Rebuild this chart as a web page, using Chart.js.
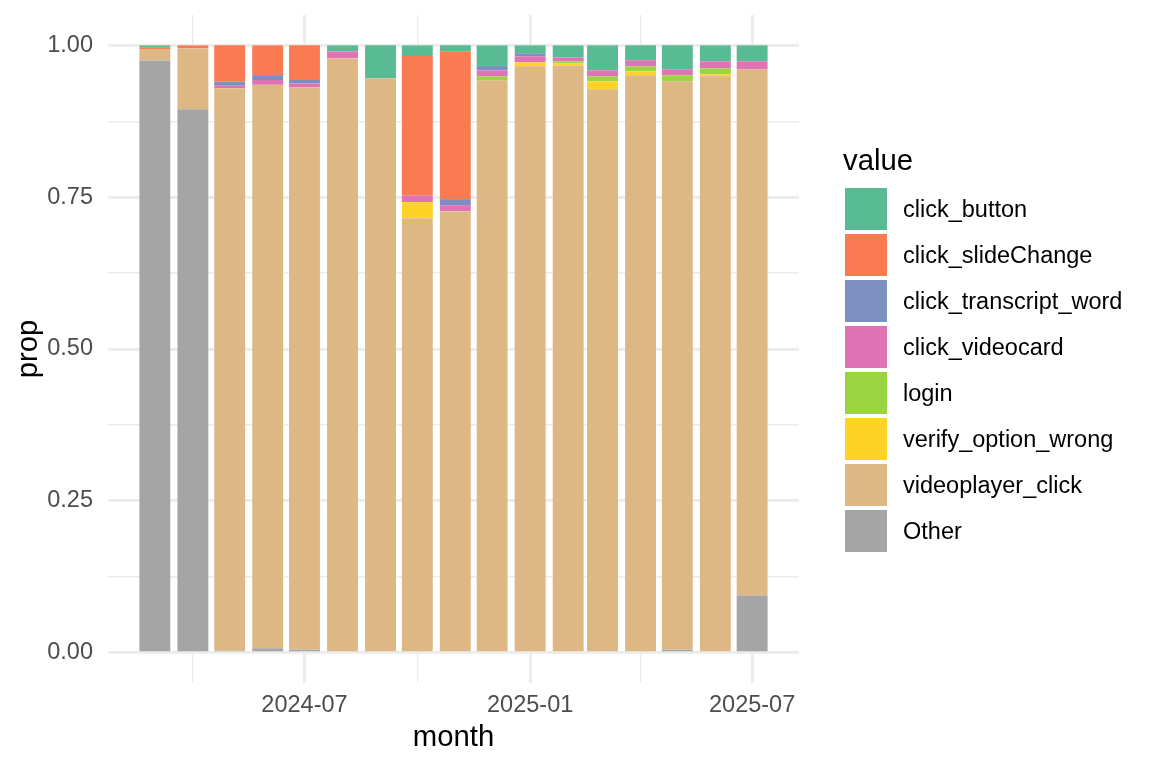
<!DOCTYPE html>
<html>
<head>
<meta charset="utf-8">
<script src="https://cdn.jsdelivr.net/npm/chart.js@4.4.1/dist/chart.umd.min.js"></script>
<style>
html,body{margin:0;padding:0;background:#fff;}
#wrap{position:relative;width:1152px;height:768px;font-family:"Liberation Sans",Arial,Helvetica,sans-serif;overflow:hidden;}
#c{position:absolute;left:0;top:0;width:1152px;height:768px;}
.lg-title{position:absolute;left:843px;top:145.2px;font-size:29.3px;line-height:29.3px;color:#000;white-space:nowrap;}
.lg-key{position:absolute;left:845px;width:42px;height:42px;}
.lg-text{position:absolute;left:903px;font-size:23.5px;line-height:23.5px;color:#000;white-space:nowrap;}
</style>
</head>
<body>
<div id="wrap">
  <canvas id="c" width="1152" height="768"></canvas>
  <div id="legend"></div>
</div>
<script>
// ---- data ----
const months = ['2024-03','2024-04','2024-05','2024-06','2024-07','2024-08','2024-09','2024-10','2024-11','2024-12','2025-01','2025-02','2025-03','2025-04','2025-05','2025-06','2025-07'];

const click_button          = [0.003, 0.000, 0.000, 0.000, 0.000, 0.010, 0.054, 0.0175, 0.010, 0.034, 0.013, 0.0197, 0.0411, 0.0247, 0.0395, 0.0263, 0.0263];
const click_slideChange     = [0.003, 0.005, 0.060, 0.049, 0.057, 0.000, 0.000, 0.2297, 0.2434, 0.000, 0.000, 0.000, 0.000, 0.000, 0.000, 0.000, 0.000];
const click_transcript_word = [0.000, 0.000, 0.0055, 0.008, 0.0055, 0.000, 0.000, 0.000, 0.0099, 0.007, 0.005, 0.000, 0.000, 0.000, 0.000, 0.000, 0.000];
const click_videocard       = [0.000, 0.000, 0.005, 0.008, 0.0065, 0.0115, 0.000, 0.011, 0.0099, 0.0099, 0.0099, 0.0066, 0.0099, 0.0099, 0.0099, 0.0115, 0.0132];
const login                 = [0.000, 0.000, 0.000, 0.000, 0.000, 0.000, 0.000, 0.000, 0.000, 0.0066, 0.000, 0.0033, 0.0082, 0.0082, 0.0099, 0.0099, 0.000];
const verify_option_wrong   = [0.000, 0.000, 0.000, 0.000, 0.000, 0.000, 0.000, 0.0263, 0.000, 0.000, 0.0066, 0.0033, 0.0132, 0.0066, 0.000, 0.0033, 0.000];
const videoplayer_click     = [0.019, 0.100, 0.9265, 0.928, 0.926, 0.9785, 0.946, 0.7155, 0.727, 0.9424, 0.9655, 0.967, 0.9276, 0.9507, 0.9359, 0.949, 0.8663];
const Other                 = [0.975, 0.895, 0.003, 0.007, 0.005, 0.000, 0.000, 0.000, 0.000, 0.000, 0.000, 0.000, 0.000, 0.000, 0.005, 0.000, 0.0942];

const seriesNames  = ['click_button','click_slideChange','click_transcript_word','click_videocard','login','verify_option_wrong','videoplayer_click','Other'];
const seriesValues = [click_button, click_slideChange, click_transcript_word, click_videocard, login, verify_option_wrong, videoplayer_click, Other];
const seriesColors = ['#58BB93','#FA7B51','#7B8FC0','#E073B6','#9AD443','#FFD326','#DDB884','#A5A5A5'];

const xBreaks      = ['2024-07','2025-01','2025-07'];
const xTickLabels  = ['2024-07','2025-01','2025-07'];
const xMinorBreaks = ['2024-04','2024-10','2025-04'];
const yBreaks      = [0, 0.25, 0.5, 0.75, 1];
const yTickLabels  = ['0.00','0.25','0.50','0.75','1.00'];
const yMinorBreaks = [0.125, 0.375, 0.625, 0.875];

// ---- helpers ----
const baseUTC = Date.UTC(+months[0].slice(0,4), +months[0].slice(5,7)-1, 1);
const dayOf = ym => (Date.UTC(+ym.slice(0,4), +ym.slice(5,7)-1, 1) - baseUTC) / 86400000;
const xs = months.map(dayOf);
let minDiff = Infinity;
for (let i = 1; i < xs.length; i++) minDiff = Math.min(minDiff, xs[i]-xs[i-1]);
const half = 0.45 * minDiff;
const lo = xs[0] - half, hi = xs[xs.length-1] + half;
const xMin = lo - 0.05*(hi-lo), xMax = hi + 0.05*(hi-lo);
const yMin = -0.05, yMax = 1.05;

const xMajorVals = xBreaks.map(dayOf);
const xMinorVals = xMinorBreaks.map(dayOf);
const xTickVals = xMajorVals.concat(xMinorVals).sort((a,b)=>a-b);
const xLabelFor = v => { const k = xMajorVals.indexOf(v); return k >= 0 ? xTickLabels[k] : ''; };
const yTickVals = yBreaks.concat(yMinorBreaks).sort((a,b)=>a-b);
const yLabelFor = v => { const k = yBreaks.findIndex(b => Math.abs(b-v) < 1e-9); return k >= 0 ? yTickLabels[k] : ''; };

const FONT = '"Liberation Sans", Arial, Helvetica, sans-serif';
Chart.defaults.font.family = FONT;

const datasets = seriesNames.map((n, i) => ({
  label: n,
  data: seriesValues[i].map((v, j) => ({x: xs[j], y: v})),
  backgroundColor: seriesColors[i],
  borderWidth: 0,
  barPercentage: 0.9,
  categoryPercentage: 1.0
})).reverse();

new Chart(document.getElementById('c'), {
  type: 'bar',
  data: { datasets },
  options: {
    responsive: false,
    maintainAspectRatio: false,
    devicePixelRatio: 1,
    animation: false,
    layout: { padding: { left: 0, right: 353, top: 15, bottom: 0 } },
    plugins: { legend: { display: false }, tooltip: { enabled: false } },
    scales: {
      x: {
        type: 'linear', stacked: true, min: xMin, max: xMax, bounds: 'data', offset: false,
        grid: { offset: false, drawTicks: false, color: '#EBEBEB',
                lineWidth: ctx => (ctx.tick && xMajorVals.includes(ctx.tick.value)) ? 2.8 : 1.4 },
        border: { display: false },
        afterBuildTicks: s => { s.ticks = xTickVals.map(v => ({ value: v })); },
        afterFit: s => { s.height = 85; s.paddingLeft = 0; s.paddingRight = 0; s.paddingTop = 0; s.paddingBottom = 0; },
        ticks: { autoSkip: false, maxRotation: 0, minRotation: 0, padding: 8.4, color: '#4D4D4D',
                 font: { size: 23.5 }, callback: v => xLabelFor(v) },
        title: { display: true, text: 'month', color: '#000', font: { size: 29.3 }, padding: { top: 0, bottom: 12.3 } }
      },
      y: {
        type: 'linear', stacked: true, min: yMin, max: yMax, bounds: 'data',
        grid: { drawTicks: false, color: '#EBEBEB',
                lineWidth: ctx => (ctx.tick && yBreaks.some(b => Math.abs(b-ctx.tick.value) < 1e-9)) ? 2.8 : 1.4 },
        border: { display: false },
        afterBuildTicks: s => { s.ticks = yTickVals.map(v => ({ value: v })); },
        afterFit: s => { s.width = 108; s.paddingTop = 0; s.paddingBottom = 0; s.paddingLeft = 0; s.paddingRight = 0; },
        ticks: { autoSkip: false, padding: 15, color: '#4D4D4D', font: { size: 23.5 }, callback: v => yLabelFor(v) },
        title: { display: true, text: 'prop', color: '#000', font: { size: 29.3 }, padding: { top: 11.5, bottom: 0 } }
      }
    }
  }
});

// ---- legend (HTML, real text) ----
const lg = document.getElementById('legend');
const t = document.createElement('div');
t.className = 'lg-title'; t.textContent = 'value';
lg.appendChild(t);
seriesNames.forEach((n, i) => {
  const top = 188.3 + 46 * i;
  const k = document.createElement('div');
  k.className = 'lg-key'; k.style.top = top + 'px'; k.style.background = seriesColors[i];
  lg.appendChild(k);
  const s = document.createElement('div');
  s.className = 'lg-text'; s.style.top = (top + 9.8) + 'px'; s.textContent = n;
  lg.appendChild(s);
});
</script>
</body>
</html>
